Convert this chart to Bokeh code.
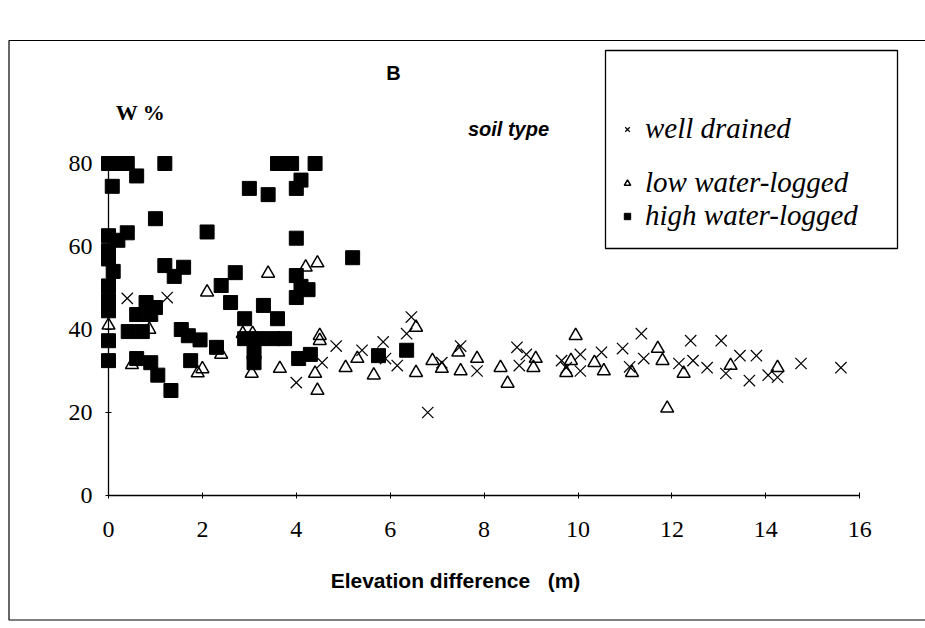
from bokeh.plotting import figure
from bokeh.models import Range1d, Label, BoxAnnotation, Legend, LegendItem, FixedTicker
from bokeh.embed import file_html
from bokeh.resources import INLINE

# ---------------- data ----------------
# well drained (crosses)
wd_x = [0.4, 1.25, 4.0, 4.55, 4.85, 5.4, 5.85, 5.9, 6.15, 6.35, 6.45, 6.8, 7.1, 7.5, 7.85,
        8.7, 8.9, 8.75, 9.65, 9.75, 10.05, 10.05, 10.5, 10.95, 11.35, 11.1, 11.4, 12.15,
        12.4, 12.45, 12.75, 13.05, 13.15, 13.45, 13.8, 13.65, 14.05, 14.25, 14.75, 15.6]
wd_y = [47.5, 47.7, 27.2, 32.0, 36.0, 35.0, 37.0, 33.0, 31.3, 39.0, 43.0, 20.0, 32.0, 36.0, 30.0,
        35.7, 34.0, 31.3, 32.5, 30.8, 34.0, 30.0, 34.5, 35.4, 39.0, 31.0, 33.0, 31.8,
        37.3, 32.5, 30.8, 37.3, 29.4, 33.7, 33.7, 27.7, 29.0, 28.5, 31.8, 30.8]

# low water-logged (open triangles)
lw_x = [0.0, 0.87, 0.5, 1.9, 2.0, 2.1, 2.4, 3.4, 4.2, 4.45, 2.86, 3.07, 4.5, 3.05, 3.65,
        4.5, 4.4, 4.45, 6.55, 5.3, 5.05, 5.65, 6.55, 6.9, 7.1, 7.45, 7.5, 7.85, 8.35, 8.5,
        9.1, 9.05, 9.95, 9.85, 9.75, 10.35, 10.55, 11.15, 11.7, 11.8, 11.9, 12.25, 13.25, 14.25]
lw_y = [41.0, 40.0, 31.5, 29.5, 30.5, 49.0, 34.0, 53.5, 55.0, 56.0, 39.0, 39.0, 38.5, 29.4, 30.6,
        37.3, 29.4, 25.3, 40.5, 33.0, 30.8, 29.0, 29.6, 32.5, 30.6, 34.5, 30.0, 33.0, 30.8, 27.0,
        33.0, 30.8, 38.5, 32.5, 29.6, 32.0, 30.0, 29.6, 35.4, 32.5, 21.0, 29.4, 31.3, 30.8]

# high water-logged (filled squares)
hw_x = [0.0, 0.2, 0.4, 0.6, 1.2, 0.08, 3.0, 3.4, 1.0, 2.1, 0.0, 0.2, 0.4, 0.0, 0.0, 0.1,
        0.0, 0.0, 0.0, 1.2, 1.6, 1.4, 0.8, 1.0, 0.6, 0.9, 0.42, 0.72, 1.55, 1.7, 1.95,
        0.0, 0.0, 0.6, 0.9, 1.05, 1.33, 1.75, 2.3, 2.9, 3.2, 3.5, 3.75, 3.1, 3.1, 4.05, 4.3,
        6.35, 5.75, 2.7, 2.4, 4.0, 4.25, 4.1, 4.0, 2.6, 3.3, 2.9, 3.6, 4.0, 5.2,
        3.6, 3.75, 3.9, 4.4, 4.1, 4.0]
hw_y = [80.0, 80.0, 80.0, 77.0, 80.0, 74.5, 74.0, 72.5, 66.7, 63.5, 62.6, 61.5, 63.3, 59.0, 57.0, 54.0,
        50.5, 47.0, 44.5, 55.4, 55.0, 52.8, 46.5, 45.3, 43.6, 43.6, 39.5, 39.5, 40.0, 38.5, 37.5,
        37.3, 32.5, 33.0, 32.0, 29.0, 25.3, 32.5, 35.7, 37.8, 37.8, 37.8, 37.8, 34.5, 32.0, 33.0, 34.0,
        35.0, 33.7, 53.7, 50.6, 53.0, 49.6, 50.4, 47.7, 46.5, 45.8, 42.6, 42.6, 62.0, 57.3,
        80.0, 80.0, 80.0, 80.0, 76.0, 74.0]

x_ticks = [0, 2, 4, 6, 8, 10, 12, 14, 16]
y_ticks = [0, 20, 40, 60, 80]
series_names = ["well drained", "low water-logged", "high water-logged"]

# ---------------- layout helpers (page pixels) ----------------
W, H = 925, 622
X0_C, PX_X = 108.0, 46.95    # px of x=0, px per unit
Y0_C, PX_Y = 495.0, 4.15     # px of y=0, px per unit


def dx(px):
    return (px - X0_C) / PX_X


def dy(py):
    return (Y0_C - py) / PX_Y


p = figure(width=W, height=H, output_backend="svg", toolbar_location=None,
           x_range=Range1d(dx(0), dx(W)),
           y_range=Range1d(dy(H), dy(0)),
           min_border=0)
p.outline_line_color = None
p.grid.visible = False
p.background_fill_color = "white"
p.border_fill_color = "white"

SERIF = "Liberation Serif"
SANS = "Liberation Sans"

for ax in (p.xaxis[0], p.yaxis[0]):
    ax.fixed_location = 0
    ax.axis_line_color = None
    ax.major_tick_in = 3
    ax.major_tick_out = 3
    ax.major_tick_line_color = "black"
    ax.minor_tick_line_color = None
    ax.major_label_text_font = SERIF
    ax.major_label_text_font_size = "24px"
    ax.major_label_text_color = "black"
p.xaxis.ticker = FixedTicker(ticks=x_ticks)
p.yaxis.ticker = FixedTicker(ticks=y_ticks)
p.xaxis.major_label_standoff = 23
p.yaxis.major_label_standoff = 13

# axis lines from 0 to last tick
p.segment(x0=[x_ticks[0], 0], y0=[0, y_ticks[0]], x1=[x_ticks[-1], 0], y1=[0, y_ticks[-1]],
          line_color="black", line_width=1.3)

r_wd = p.scatter(wd_x, wd_y, marker="x", size=16, line_color="black", line_width=1.2)
r_lw = p.scatter(lw_x, lw_y, marker="triangle", size=13, line_color="black", line_width=1.5,
                 fill_color="white", fill_alpha=0.0)
r_hw = p.scatter(hw_x, hw_y, marker="square", size=14, line_color="black", fill_color="black")

# outer page border (open on the right, as in the scan) and legend box
p.line(x=[dx(990), dx(8.5), dx(8.5), dx(990)], y=[dy(40), dy(40), dy(619.5), dy(619.5)],
       line_color="black", line_width=1.2)
p.add_layout(BoxAnnotation(left=dx(605), right=dx(897), top=dy(50), bottom=dy(248),
                           fill_alpha=0, line_color="black", line_alpha=1.0, line_width=1.3))

# one legend per entry so the uneven vertical placement of the scan is kept
legend_rows = [(r_wd, 481), (r_lw, 427), (r_hw, 394)]
for name, (rend, ypos) in zip(series_names, legend_rows):
    lg = Legend(items=[LegendItem(label=name, renderers=[rend])],
                location=(619, ypos - (626 - H)), orientation="vertical",
                label_text_font=SERIF, label_text_font_style="italic",
                label_text_font_size="29px", label_text_color="black",
                glyph_width=16, glyph_height=20, label_height=20,
                label_standoff=10, padding=0, margin=0,
                border_line_color=None, background_fill_alpha=0.0)
    p.add_layout(lg, "center")

label_kw = dict(text_color="black", text_align="center", text_baseline="middle")
p.add_layout(Label(x=dx(393), y=dy(72), text="B", text_font=SANS, text_font_style="bold",
                   text_font_size="20px", **label_kw))
p.add_layout(Label(x=dx(140), y=dy(112), text="W %", text_font=SERIF, text_font_style="bold",
                   text_font_size="22px", **label_kw))
p.add_layout(Label(x=dx(508), y=dy(128), text="soil type", text_font=SANS,
                   text_font_style="bold italic", text_font_size="20px", **label_kw))
p.add_layout(Label(x=dx(455), y=dy(580), text="Elevation difference\u00a0\u00a0\u00a0(m)",
                   text_font=SANS, text_font_style="bold", text_font_size="21px", **label_kw))

open("out.html", "w").write(file_html(p, INLINE))
